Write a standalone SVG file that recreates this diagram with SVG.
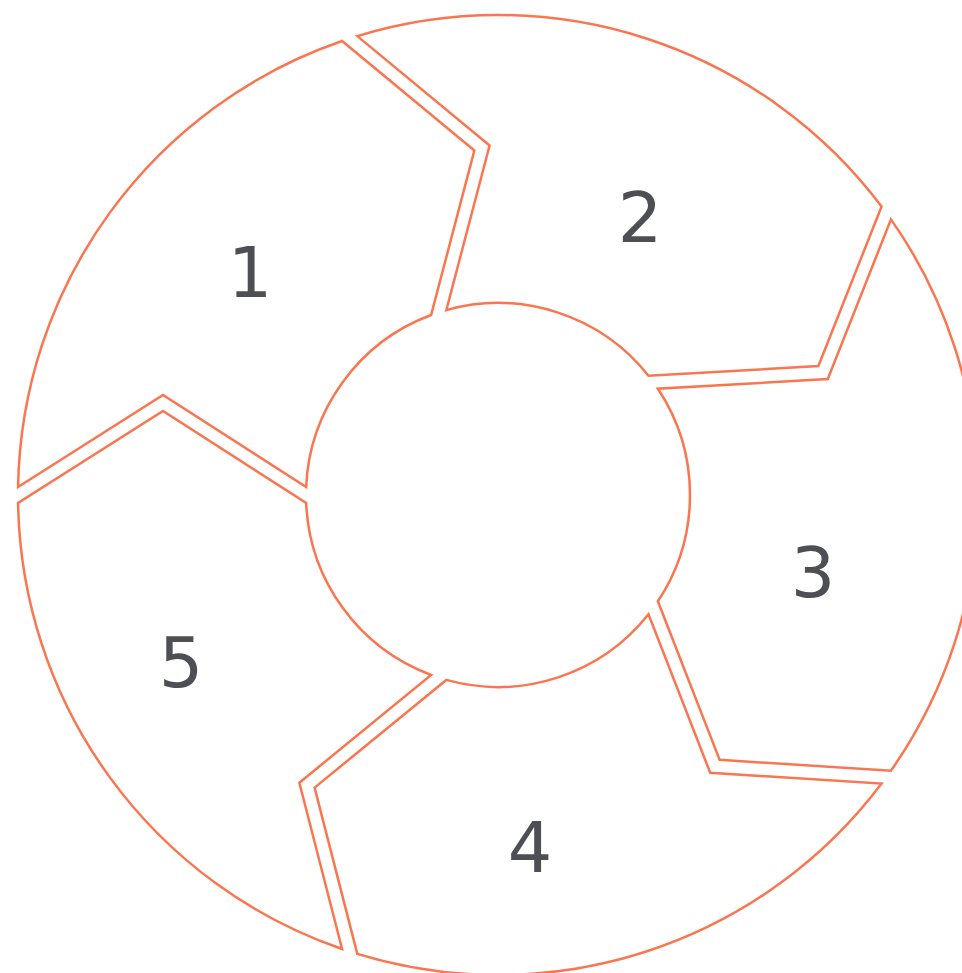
<svg xmlns="http://www.w3.org/2000/svg" width="962" height="973" viewBox="0 0 962 973">
  <style>
    .seg { fill: #ffffff; stroke: #fa7650; stroke-width: 2.5; stroke-linejoin: miter; }
    .lbl { font-family: "DejaVu Sans", Verdana, sans-serif; font-size: 70px; fill: #4d4f54; text-anchor: middle; }
  </style>
  <rect x="0" y="0" width="962" height="973" fill="#ffffff"/>
  <g id="connectors"></g>
  <g id="node1">
    <path class="seg" d="M 18.07 487 A 480 480 0 0 1 342.08 41.03 L 474.37 150.44 L 431.11 315.03 A 192 192 0 0 0 306.17 487 L 163 395 Z"/>
    <text class="lbl" x="250" y="297">1</text>
  </g>
  <g id="node2">
    <path class="seg" d="M 357.30 36.09 A 480 480 0 0 1 881.57 206.43 L 818.39 366.05 L 648.49 375.77 A 192 192 0 0 0 446.33 310.09 L 489.59 145.50 Z"/>
    <text class="lbl" x="640" y="242">2</text>
  </g>
  <g id="node3">
    <path class="seg" d="M 890.97 219.37 A 480 480 0 0 1 890.97 770.63 L 719.65 759.87 L 657.89 601.29 A 192 192 0 0 0 657.89 388.71 L 827.80 378.99 Z"/>
    <text class="lbl" x="813" y="597">3</text>
  </g>
  <g id="node4">
    <path class="seg" d="M 881.57 783.57 A 480 480 0 0 1 357.30 953.91 L 314.59 787.64 L 446.33 679.91 A 192 192 0 0 0 648.49 614.23 L 710.24 772.81 Z"/>
    <text class="lbl" x="530" y="872">4</text>
  </g>
  <g id="node5">
    <path class="seg" d="M 342.08 948.97 A 480 480 0 0 1 18.07 503 L 163 411 L 306.17 503 A 192 192 0 0 0 431.11 674.97 L 299.37 782.70 Z"/>
    <text class="lbl" x="181" y="687">5</text>
  </g>
</svg>
